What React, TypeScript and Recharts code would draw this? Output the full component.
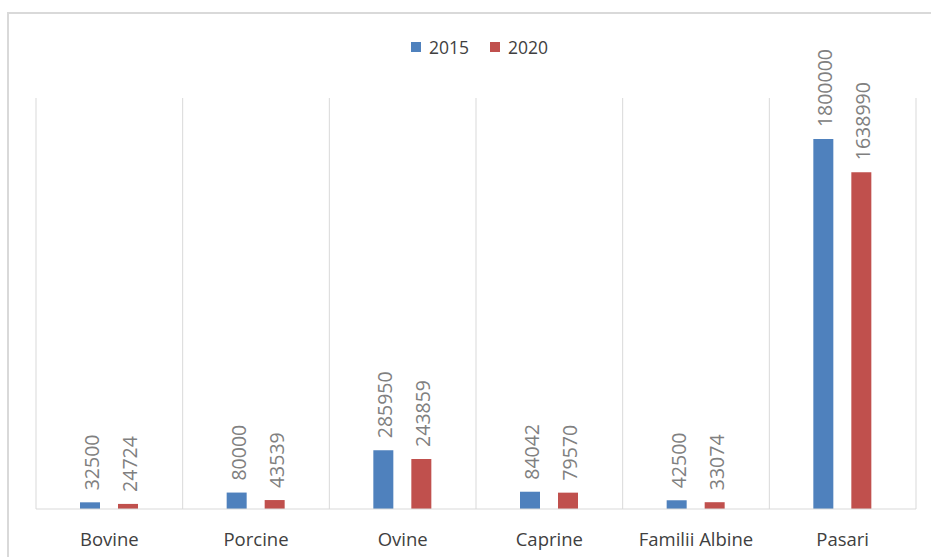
import React from "react";
import { BarChart, Bar, XAxis, YAxis, CartesianGrid, Legend, LabelList } from "recharts";

const categories: string[] = ["Bovine", "Porcine", "Ovine", "Caprine", "Familii Albine", "Pasari"];
const values2015: number[] = [32500, 80000, 285950, 84042, 42500, 1800000];
const values2020: number[] = [24724, 43539, 243859, 79570, 33074, 1638990];

const data = categories.map((name, i) => ({
  name,
  y2015: values2015[i],
  y2020: values2020[i],
}));

const BLUE = "#4f81bd";
const RED = "#c0504d";
const GRID = "#d9d9d9";

const RotatedLabel = (props: any) => {
  const { x, y, width, value } = props;
  const cx = x + width / 2;
  const ty = y - 12;
  return (
    <text
      x={cx}
      y={ty}
      dy={9}
      transform={`rotate(-90 ${cx} ${ty})`}
      textAnchor="start"
      fill="#808080"
      fontSize={19.5}
      fontFamily="'Open Sans', sans-serif"
    >
      {value}
    </text>
  );
};

const CategoryTick = (props: any) => {
  const { x, y, payload } = props;
  return (
    <text
      x={x}
      y={y + 37}
      textAnchor="middle"
      fill="#404040"
      fontSize={18.5}
      fontFamily="'Open Sans', sans-serif"
    >
      {payload.value}
    </text>
  );
};

const LegendContent = (props: any) => {
  const { payload } = props;
  return (
    <div style={{ display: "flex", justifyContent: "center", alignItems: "center", paddingLeft: 28, fontFamily: "'Open Sans', sans-serif", fontSize: 17.5, color: "#404040" }}>
      {payload.map((entry: any, i: number) => (
        <div key={i} style={{ display: "flex", alignItems: "center", marginRight: i === 0 ? 21 : 0 }}>
          <span style={{ display: "inline-block", width: 10, height: 10, background: entry.color, marginRight: 8 }} />
          <span>{entry.value}</span>
        </div>
      ))}
    </div>
  );
};

const App: React.FC = () => {
  return (
    <div style={{ position: "absolute", left: 0, top: 0, width: 931, height: 557, overflow: "hidden", background: "#fff" }}>
      <div style={{ position: "absolute", left: 7, top: 12, width: 1000, height: 1000, borderLeft: `2px solid ${GRID}`, borderTop: `2px solid ${GRID}` }} />
      <BarChart
        width={931}
        height={557}
        data={data}
        margin={{ top: 74, right: 15, bottom: 18, left: 36 }}
        barSize={20}
        barGap={18}
        style={{ position: "absolute", left: 0, top: 0 }}
      >
        <CartesianGrid
          horizontal={false}
          stroke={GRID}
          verticalCoordinatesGenerator={({ offset }: any) =>
            [0, 1, 2, 3, 4, 5, 6].map((i) => offset.left + (i * offset.width) / 6)
          }
        />
        <XAxis
          dataKey="name"
          axisLine={{ stroke: GRID }}
          tickLine={false}
          tickSize={0}
          tickMargin={0}
          tick={<CategoryTick />}
          interval={0}
        />
        <YAxis hide domain={[0, 2000000]} />
        <Legend
          verticalAlign="top"
          content={<LegendContent />}
          wrapperStyle={{ top: 35, left: 0, width: 931 }}
        />
        <Bar dataKey="y2015" name="2015" fill={BLUE} isAnimationActive={false}>
          <LabelList dataKey="y2015" content={<RotatedLabel />} />
        </Bar>
        <Bar dataKey="y2020" name="2020" fill={RED} isAnimationActive={false}>
          <LabelList dataKey="y2020" content={<RotatedLabel />} />
        </Bar>
      </BarChart>
    </div>
  );
};

export default App;
